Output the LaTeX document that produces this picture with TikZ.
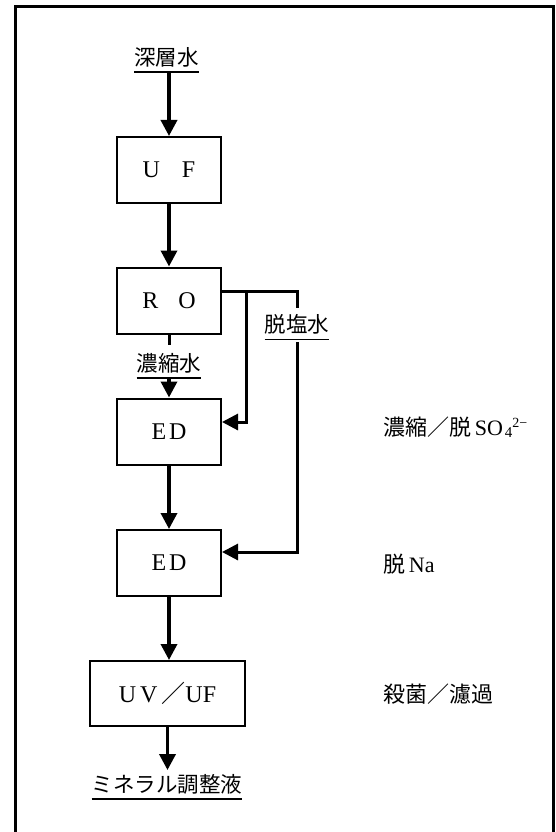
\documentclass[tikz,border=0pt]{standalone}
\usepackage{fontspec}
\setmainfont{Liberation Serif}
\newfontfamily\jp{Noto Sans CJK JP}
\usetikzlibrary{arrows.meta}
\begin{document}
\begin{tikzpicture}[x=1pt,y=-1pt,
  box/.style={draw,line width=2pt,minimum width=104pt,minimum height=66pt,inner sep=0pt,font=\fontsize{24}{26}\selectfont},
  lbl/.style={inner sep=0pt,text height=18pt,text depth=3.5pt,font=\jp\fontsize{21.5}{22}\selectfont},
  side/.style={anchor=west,inner sep=0pt,font=\fontsize{22}{24}\selectfont},
  flow/.style={line width=3.5pt,-{Triangle[length=16pt,width=16pt]}},
  link/.style={line width=3pt},
  linkarrow/.style={line width=3pt,-{Triangle[length=16pt,width=16pt]}},
  uline/.style={line width=1.5pt},
  frame/.style={line width=3pt}]
\useasboundingbox (0,0) rectangle (556,832);
\draw[frame] (15,832) -- (15,6.5) -- (553,6.5) -- (553,832);

% main column
\node[lbl] (src) at (166.5,58) {深層水};
\node[box] (uf) at (169,170) {U\hspace{22pt}F};
\node[box] (ro) at (169,300.5) {R\hspace{20pt}O};
\node[lbl] (conc) at (169,364) {濃縮水};
\node[box] (ed1) at (169,431.5) {E\hspace{3pt}D\hspace{12pt}};
\node[lbl] (desal) at (297,325.5) {脱塩水};
\node[box] (ed2) at (169,563) {E\hspace{3pt}D\hspace{12pt}};
\node[box,minimum width=155pt,minimum height=65pt] (uv) at (167.5,693.5) {U\,V\,{\jp ／}UF\hspace{8pt}};
\node[lbl] (prod) at (167,785) {ミネラル調整液};

% side labels
\node[side] (n1) at (383,427) {{\jp 濃縮／脱}\,SO\hspace{2pt}\raisebox{-2pt}{\fontsize{15}{16}\selectfont 4}\raisebox{8pt}{\fontsize{14}{15}\selectfont 2−}};
\node[side] (n2) at (383,564.5) {{\jp 脱}\,Na};
\node[side] (n3) at (383,694) {{\jp 殺菌／濾過}};

% underlines
\foreach \n in {src,conc,desal,prod}
  \draw[uline] ([yshift=-3pt]\n.south west) -- ([yshift=-3pt]\n.south east);

\coordinate (srcu) at ([yshift=-3pt]src.south);
\coordinate (concu) at ([yshift=-3pt]conc.south);
\coordinate (j1) at (246,291);
\coordinate (j2) at (297,291);
\coordinate (k1) at (246,422);
\coordinate (k2) at (297,552);

% flow connectors
\draw[flow] (srcu -| uf.north) -- (uf.north);
\draw[flow] (uf.south) -- (ro.north);
\draw[link] (ro.south) -- ([yshift=8pt]conc.north);
\draw[flow] (concu -| ed1.north) -- (ed1.north);
\draw[flow] (ed1.south) -- (ed2.north);
\draw[flow] (ed2.south) -- (ed2.south |- uv.north);
\draw[flow] (uv.south) -- ([yshift=4pt]uv.south |- prod.north);

% side connectors
\draw[link] (ro.east |- j1) -- (j2) -- ([yshift=7pt]desal.north);
\draw[linkarrow] (j1) -- (k1) -- (ed1.east |- k1);
\draw[linkarrow] ([yshift=-6pt]desal.south) -- (k2) -- (ed2.east |- k2);
\end{tikzpicture}
\end{document}
